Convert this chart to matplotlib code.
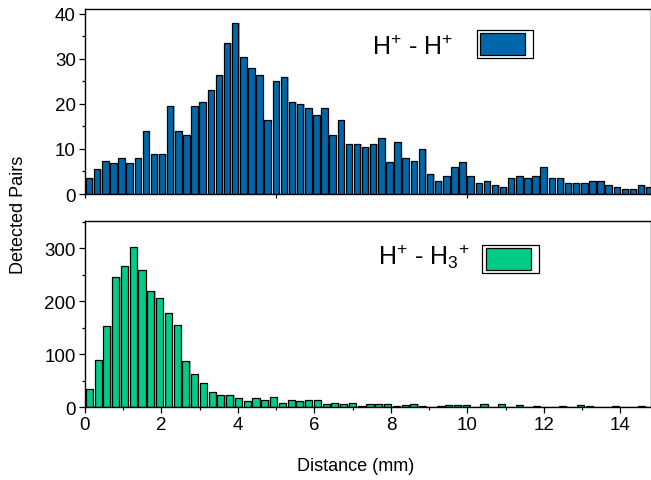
import numpy as np
import matplotlib
matplotlib.use("Agg")
from matplotlib import pyplot as plt
from matplotlib.patches import Rectangle
from matplotlib.ticker import MultipleLocator

plt.rcParams['font.family'] = ['Liberation Sans', 'DejaVu Sans']
plt.rcParams['mathtext.fontset'] = 'custom'
plt.rcParams['mathtext.rm'] = 'Liberation Sans'
plt.rcParams['mathtext.it'] = 'Liberation Sans'

# H+ - H+ pairs, bins of ~0.212 mm starting at 0
hh_bin = 0.2123
hh_counts = [3.5, 5.5, 7.4, 6.9, 7.9, 6.9, 7.9, 13.9, 8.9, 8.9, 19.4, 13.9, 13.0, 19.4,
             20.5, 23.0, 26.4, 33.5, 38.0, 30.4, 27.9, 26.4, 16.5, 25.0,
             26.0, 20.5, 20.0, 19.0, 17.5, 19.0, 13.0, 16.5, 11.0, 11.0, 10.5, 11.0,
             12.5, 7.0, 11.5, 8.0, 7.4, 9.9, 4.5, 2.9, 4.0, 6.0,
             7.0, 4.0, 2.5, 2.9, 2.0, 1.5, 3.5, 4.0, 3.5, 4.0, 6.0, 3.5, 3.5, 2.5,
             2.5, 2.5, 2.9, 2.9, 2.0, 1.5, 1.0, 1.0, 2.0, 1.5]

# H+ - H3+ pairs, bins of ~0.229 mm starting at 0
hh3_bin = 0.2293
hh3_counts = [34, 90, 154, 245, 267, 303, 259, 220, 207, 178, 155, 88, 63, 46, 29, 23,
              23, 17, 11, 17, 14, 19,
              9, 13, 12, 13, 13, 7, 8, 6, 7.5, 3, 5.7, 5.7, 5.7, 2.5, 4, 5.7, 2, 1,
              3, 5, 4, 5,
              1, 6, 1, 7, 1, 4, 1, 2, 1, 1, 2, 1, 4, 2, 1, 1, 2, 1, 1, 2, 1]

labels = [r'H$^{+}$ - H$^{+}$', r'H$^{+}$ - H$_{3}{}^{+}$']
colors = ['#0067AA', '#00CC8A']

W, H = 651, 481
fig = plt.figure(figsize=(W / 100, H / 100), dpi=100)
ax1 = fig.add_axes([85 / W, 1 - 195 / H, 566 / W, 185 / H])
ax2 = fig.add_axes([85 / W, 1 - 408.3 / H, 566 / W, 186 / H])


def draw_hist(ax, counts, binw, color):
    centers = (np.arange(len(counts)) + 0.5) * binw
    # light grey drop shadow like the original software
    ax.bar(centers + 0.035, counts, width=0.8 * binw, color='#b0b0b0',
           edgecolor='none', zorder=1)
    ax.bar(centers, counts, width=0.8 * binw, color=color,
           edgecolor='black', linewidth=0.9, zorder=2)


draw_hist(ax1, hh_counts, hh_bin, colors[0])
draw_hist(ax2, hh3_counts, hh3_bin, colors[1])

ax1.set_xlim(0, 14.8)
ax2.set_xlim(0, 14.8)
ax1.set_ylim(0, 41)
ax2.set_ylim(0, 351)

ax1.xaxis.set_major_locator(MultipleLocator(5))
ax1.set_xticklabels([])
ax1.yaxis.set_major_locator(MultipleLocator(10))
ax1.yaxis.set_minor_locator(MultipleLocator(5))
ax2.xaxis.set_major_locator(MultipleLocator(2))
ax2.xaxis.set_minor_locator(MultipleLocator(1))
ax2.yaxis.set_major_locator(MultipleLocator(100))
ax2.yaxis.set_minor_locator(MultipleLocator(50))

for ax in (ax1, ax2):
    for s in ax.spines.values():
        s.set_linewidth(1.0)
    ax.tick_params(which='major', direction='out', length=4.5, width=0.9,
                   labelsize=13.5, pad=2)
    ax.tick_params(which='minor', direction='out', length=2.5, width=0.9)
ax1.tick_params(axis='x', which='major', length=3)

# legend-like boxes
boxes = [
    (ax1, (0.692, 0.733, 0.100, 0.153), (0.698, 0.751, 0.0795, 0.117), (0.650, 0.757)),
    (ax2, (0.702, 0.720, 0.1007, 0.154), (0.708, 0.738, 0.080, 0.118), (0.680, 0.774)),
]
for (ax, outer, inner, tpos), lab, col in zip(boxes, labels, colors):
    ax.add_patch(Rectangle(outer[:2], outer[2], outer[3], transform=ax.transAxes,
                           facecolor='white', edgecolor='black', linewidth=0.9, zorder=5))
    ax.add_patch(Rectangle(inner[:2], inner[2], inner[3], transform=ax.transAxes,
                           facecolor=col, edgecolor='black', linewidth=0.9, zorder=6))
    ax.text(tpos[0], tpos[1], lab, transform=ax.transAxes, ha='right', va='baseline',
            fontsize=18, zorder=6)

fig.text(19 / W, 1 - 215 / H, 'Detected Pairs', rotation=90, ha='center', va='center',
         fontsize=13)
fig.text(356 / W, 1 - 467 / H, 'Distance (mm)', ha='center', va='center', fontsize=13)

fig.savefig('out.png', dpi=100)
